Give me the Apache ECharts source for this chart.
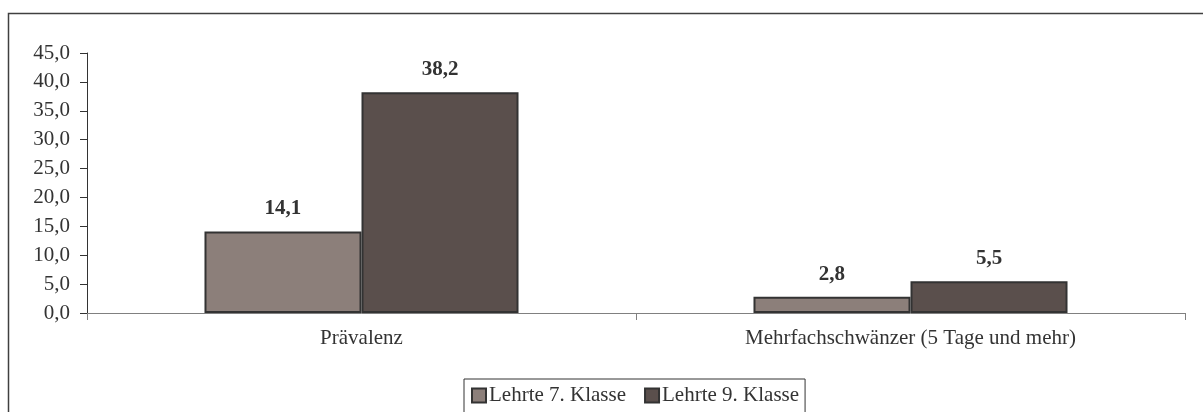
<!DOCTYPE html>
<html>
<head>
<meta charset="utf-8">
<script src="https://cdn.jsdelivr.net/npm/echarts@6/dist/echarts.min.js"></script>
<style>html,body{margin:0;padding:0;background:#fff}#c{width:1203px;height:412px}</style>
</head>
<body>
<div id="c"></div>
<script>
const categories = ['Prävalenz', 'Mehrfachschwänzer (5 Tage und mehr)'];
const seriesNames = ['Lehrte 7. Klasse', 'Lehrte 9. Klasse'];
const klasse7 = [14.1, 2.8];
const klasse9 = [38.2, 5.5];
const yTicks = {min: 0, max: 45, interval: 5};

const font = 'Liberation Serif, Times New Roman, serif';
const chart = echarts.init(document.getElementById('c'), null, {renderer: 'canvas'});
const fmt = v => v.toFixed(1).replace('.', ',');
function mk(name, data, color) {
  return {
    name, type: 'bar', data,
    barGap: '0%', barCategoryGap: '42.8%',
    itemStyle: {color, borderColor: '#333333', borderWidth: 2},
    label: {show: true, position: 'top', distance: 12, fontFamily: font, fontSize: 21, fontWeight: 'bold', color: '#333333',
      formatter: p => fmt(p.value)},
    emphasis: {disabled: true}
  };
}
chart.setOption({
  animation: false,
  textStyle: {fontFamily: font},
  grid: {left: 87, right: 18, top: 53, bottom: 99},
  legend: {
    left: 464, top: 379, orient: 'horizontal',
    borderColor: '#333', borderWidth: 1, padding: [6, 6, 8, 7],
    itemWidth: 14, itemHeight: 14, itemGap: 18,
    icon: 'rect',
    textStyle: {fontFamily: font, fontSize: 21, color: '#333', padding: [0, 0, 0, -2]},
    itemStyle: {borderColor: '#333', borderWidth: 2},
    data: seriesNames
  },
  xAxis: {
    type: 'category', data: categories,
    axisLine: {lineStyle: {color: '#808080', width: 1}},
    axisTick: {show: true, length: 7, lineStyle: {color: '#808080'}},
    axisLabel: {fontFamily: font, fontSize: 21, color: '#333', margin: 15}
  },
  yAxis: {
    type: 'value', min: yTicks.min, max: yTicks.max, interval: yTicks.interval,
    axisLine: {show: true, lineStyle: {color: '#333', width: 1}},
    axisTick: {show: true, length: 7, lineStyle: {color: '#333'}},
    splitLine: {show: false},
    axisLabel: {fontFamily: font, fontSize: 21, color: '#333', margin: 17, formatter: v => fmt(v)}
  },
  graphic: [{
    type: 'rect', shape: {x: 8.5, y: 13.5, width: 1300, height: 500},
    style: {fill: 'none', stroke: '#404040', lineWidth: 1.5}, silent: true, z: -1
  }],
  series: [mk(seriesNames[0], klasse7, '#8C7F7A'), mk(seriesNames[1], klasse9, '#5A4F4C')]
});
</script>
</body>
</html>
